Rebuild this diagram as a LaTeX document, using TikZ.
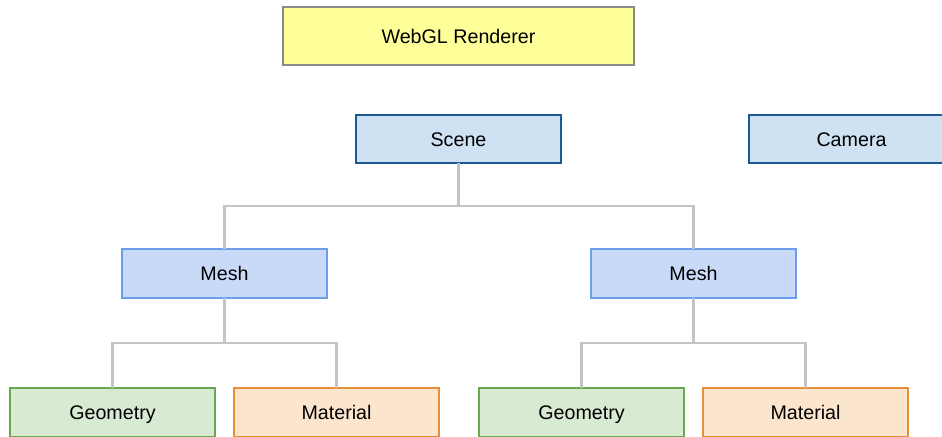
\documentclass[tikz,border=0pt]{standalone}
\usepackage{fontspec}
\setmainfont{Liberation Sans}
\usetikzlibrary{positioning}

\begin{document}
\begin{tikzpicture}[
  x=0.02cm, y=-0.02cm,
  font=\fontsize{11.2}{13}\selectfont,
  box/.style={draw, minimum width=4.1cm, minimum height=0.97cm, inner sep=0pt, outer sep=0pt, text height=10pt, text depth=1.5pt, line width=1.1pt},
  renderer/.style={box, minimum width=7.02cm, minimum height=1.16cm, fill=rendfill, draw=rendline, line width=0.7pt},
  scenebox/.style={box, fill=scenefill, draw=sceneline},
  meshbox/.style={box, fill=meshfill, draw=meshline},
  geombox/.style={box, fill=geomfill, draw=geomline},
  matbox/.style={box, fill=matfill, draw=matline},
  link/.style={draw=linkgray, line width=1.2pt}
]
\definecolor{rendfill}{HTML}{FFFF99}
\definecolor{rendline}{HTML}{8A8A8A}
\definecolor{scenefill}{HTML}{CFE2F3}
\definecolor{sceneline}{HTML}{1C5A96}
\definecolor{meshfill}{HTML}{C9DAF8}
\definecolor{meshline}{HTML}{6D9EEB}
\definecolor{geomfill}{HTML}{D9EAD3}
\definecolor{geomline}{HTML}{6AA84F}
\definecolor{matfill}{HTML}{FCE5CD}
\definecolor{matline}{HTML}{E69138}
\definecolor{linkgray}{HTML}{C4C4C4}

\useasboundingbox (0,0) rectangle (942,436);
\clip (0,0) rectangle (942,436);

% top row
\node[renderer] (rend) at (458.5, 36) {WebGL Renderer};
\node[scenebox] (scene) at (458.5, 139) {Scene};
\node[scenebox] (cam) at (851.5, 139) {Camera};

% meshes
\node[meshbox] (mesh1) at (224.5, 273.5) {Mesh};
\node[meshbox] (mesh2) at (693.5, 273.5) {Mesh};

% leaves
\node[geombox] (geo1) at (112.5, 412.5) {Geometry};
\node[matbox]  (mat1) at (336.5, 412.5) {Material};
\node[geombox] (geo2) at (581.5, 412.5) {Geometry};
\node[matbox]  (mat2) at (805.5, 412.5) {Material};

\draw[link] (scene.south) -- ++(0,43) -| (mesh1.north);
\draw[link] (scene.south) -- ++(0,43) -| (mesh2.north);
\draw[link] (mesh1.south) -- ++(0,45) -| (geo1.north);
\draw[link] (mesh1.south) -- ++(0,45) -| (mat1.north);
\draw[link] (mesh2.south) -- ++(0,45) -| (geo2.north);
\draw[link] (mesh2.south) -- ++(0,45) -| (mat2.north);
\end{tikzpicture}
\end{document}
